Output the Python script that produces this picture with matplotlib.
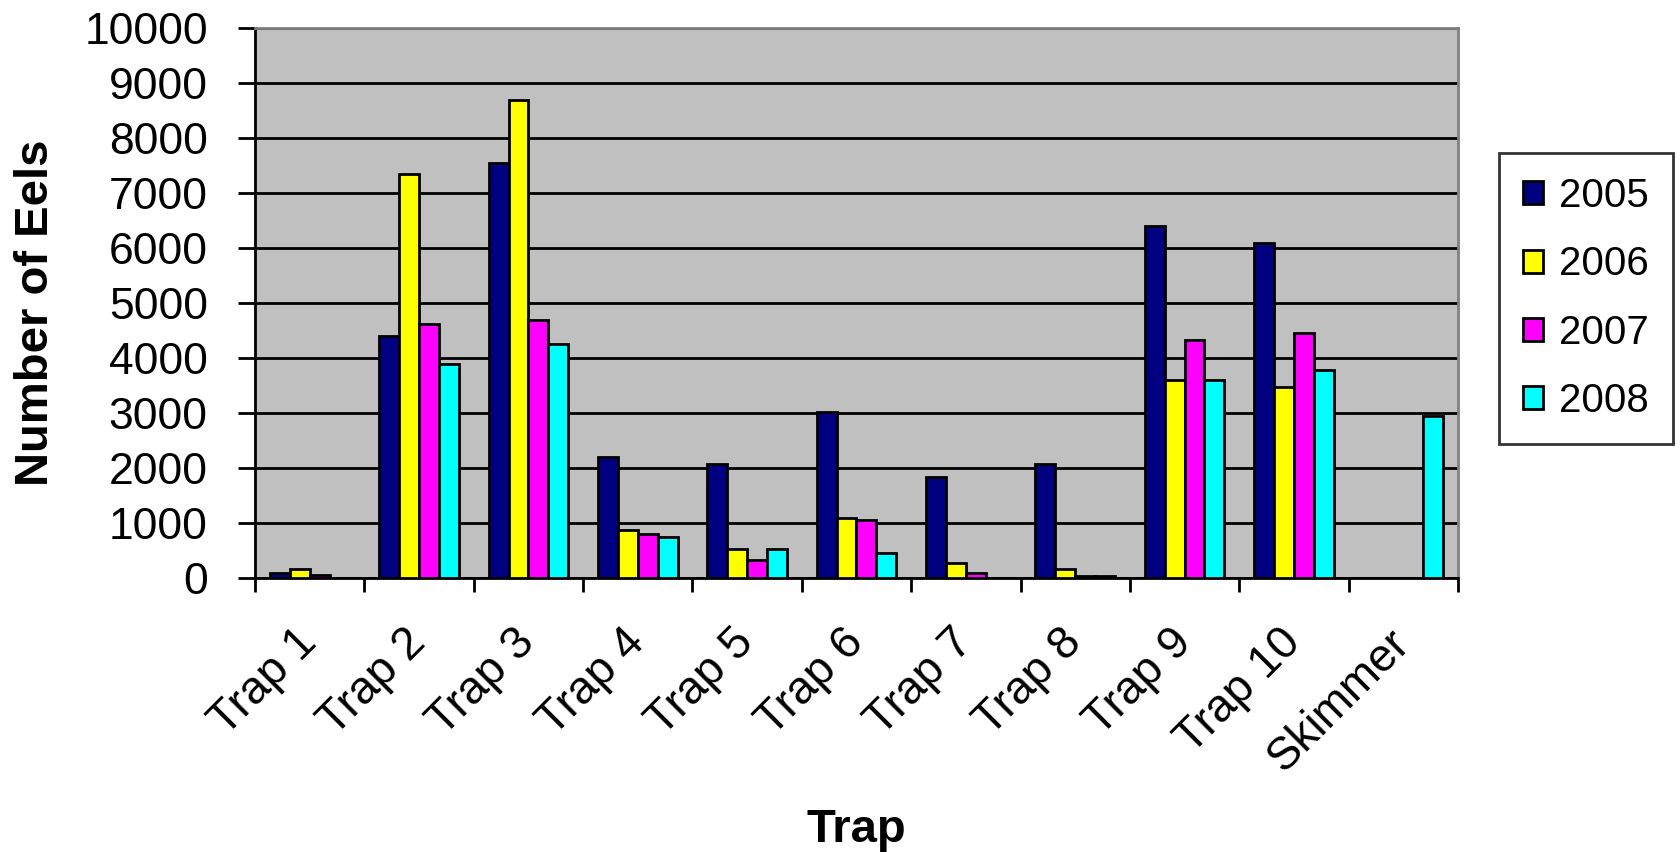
import matplotlib
matplotlib.use("Agg")
import matplotlib.pyplot as plt
import matplotlib.transforms as mtransforms
import numpy as np

plt.rcParams['font.family'] = ['Liberation Sans', 'DejaVu Sans']

traps = ["Trap 1", "Trap 2", "Trap 3", "Trap 4", "Trap 5", "Trap 6",
         "Trap 7", "Trap 8", "Trap 9", "Trap 10", "Skimmer"]
years = ["2005", "2006", "2007", "2008"]

# eel counts per trap, nan where nothing was recorded
eels_2005 = [100, 4400, 7550, 2200, 2070, 3020, 1830, 2070, 6400, 6100, np.nan]
eels_2006 = [170, 7350, 8700, 870, 520, 1100, 280, 160, 3600, 3480, np.nan]
eels_2007 = [50, 4620, 4700, 800, 335, 1050, 100, 45, 4320, 4450, np.nan]
eels_2008 = [np.nan, 3900, 4250, 750, 520, 450, np.nan, 40, 3600, 3780, 2950]

series = [eels_2005, eels_2006, eels_2007, eels_2008]
colors = ["#000080", "#FFFF00", "#FF00FF", "#00FFFF"]

fig = plt.figure(figsize=(16.81, 8.52), dpi=100)
ax = fig.add_axes([255 / 1681, 1 - 578 / 852, 1203 / 1681, 550 / 852])
ax.set_facecolor("#C0C0C0")

x = np.arange(len(traps))
width = 1 / 5.5
for i, (vals, col, yr) in enumerate(zip(series, colors, years)):
    ax.bar(x + (i - 1.5) * width, vals, width, color=col, edgecolor="black",
           linewidth=2, label=yr, zorder=3)

ax.set_xlim(-0.5, len(traps) - 0.5)
ax.set_ylim(0, 10000)
ax.set_yticks(np.arange(0, 10001, 1000))
ax.yaxis.grid(True, color="black", linewidth=2)
ax.set_axisbelow(True)

# category ticks sit between the groups, labels at group centres
ax.set_xticks(np.arange(-0.5, len(traps)), minor=False)
ax.set_xticklabels([])
ax.set_xticks(x, minor=True)
ax.set_xticklabels(traps, minor=True, rotation=45, ha="right", va="center",
                   rotation_mode="anchor", fontsize=33)
shift = mtransforms.ScaledTranslation(-10 / 100, 0, fig.dpi_scale_trans)
for lbl in ax.get_xticklabels(minor=True):
    lbl.set_transform(lbl.get_transform() + shift)
ax.tick_params(axis="x", which="minor", length=0, pad=42)
ax.tick_params(axis="x", which="major", length=10, width=2, direction="out")
ax.tick_params(axis="y", length=12, width=2, direction="out", labelsize=32, pad=22)

for side in ["left", "bottom"]:
    ax.spines[side].set_linewidth(2)
    ax.spines[side].set_color("black")
for side in ["top", "right"]:
    ax.spines[side].set_linewidth(2)
    ax.spines[side].set_color("#808080")

ax.set_ylabel("Number of Eels", fontsize=34, fontweight="bold")
ax.yaxis.set_label_coords(-0.164, 0.482)
ax.set_xlabel("Trap", fontsize=34, fontweight="bold")
ax.xaxis.set_label_coords(0.5, -0.418)

leg = ax.legend(loc="upper left", bbox_to_anchor=(1499 / 1681, 1 - 153 / 852),
                bbox_transform=fig.transFigure, fontsize=29, frameon=True,
                fancybox=False, edgecolor="black", handlelength=0.5,
                handleheight=0.5, handletextpad=0.4, labelspacing=0.75,
                borderpad=0.6, borderaxespad=0)
leg.get_frame().set_linewidth(2)

fig.savefig("out.png", dpi=100, facecolor="white")
